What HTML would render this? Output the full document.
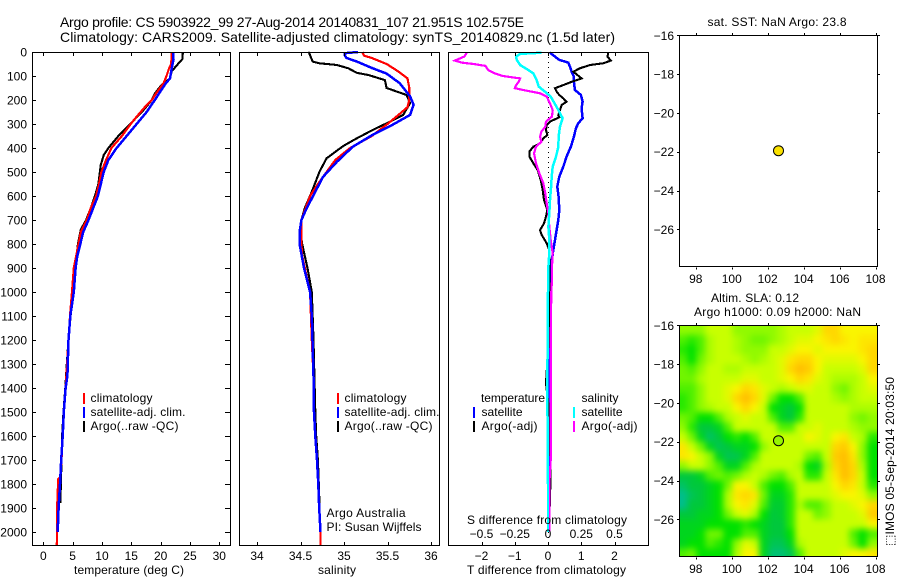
<!DOCTYPE html>
<html lang="en">
<head>
<meta charset="utf-8">
<title>Argo profile CS 5903922_99</title>
<style>
html,body{margin:0;padding:0;background:#fff;}
svg{display:block;}
text{font-family:"Liberation Sans","DejaVu Sans",sans-serif;font-size:12px;fill:#000;}
.ttl{font-size:14px;}
.box{fill:none;stroke:#000;stroke-width:1;shape-rendering:crispEdges;}
.lg{shape-rendering:crispEdges;}
</style>
</head>
<body>
<svg id="figure" xmlns="http://www.w3.org/2000/svg" width="900" height="580" viewBox="0 0 900 580">
  <defs>
    <clipPath id="mapClip"><rect x="679.5" y="325.5" width="198" height="231"/></clipPath>
    <filter id="smooth" filterUnits="userSpaceOnUse" x="640" y="280" width="280" height="320" color-interpolation-filters="sRGB">
      <feGaussianBlur stdDeviation="3.2"/>
    </filter>
  </defs>

  <text class="ttl" x="60" y="27" textLength="464">Argo profile: CS 5903922_99 27-Aug-2014 20140831_107 21.951S 102.575E</text>
  <text class="ttl" x="60" y="42" textLength="555">Climatology: CARS2009. Satellite-adjusted climatology: synTS_20140829.nc (1.5d later)</text>

  <g id="heat" clip-path="url(#mapClip)"><g id="heatCells" filter="url(#smooth)"></g></g>

  <g id="series1"></g>
  <g id="series2"></g>
  <line x1="548.5" y1="52" x2="548.5" y2="545" stroke="#000" stroke-width="1" stroke-dasharray="1 4" shape-rendering="crispEdges"/>
  <g id="series3"></g>

  <rect class="box" x="32.5" y="52.5" width="198" height="493"/>
  <rect class="box" x="239.5" y="52.5" width="200" height="493"/>
  <rect class="box" x="448.5" y="52.5" width="200" height="493"/>
  <rect class="box" x="679.5" y="35.5" width="198" height="231"/>
  <rect class="box" x="679.5" y="325.5" width="198" height="231"/>

  <g id="axes"></g>

  <text x="74" y="574" textLength="110">temperature (deg C)</text>
  <text x="318" y="574" textLength="38">salinity</text>
  <text x="467" y="574" textLength="159">T difference from climatology</text>
  <text x="467" y="524" textLength="160">S difference from climatology</text>

  <g>
    <rect class="lg" x="83" y="393" width="2" height="11" fill="#f00"/>
    <rect class="lg" x="83" y="407" width="2" height="11" fill="#00f"/>
    <rect class="lg" x="83" y="421" width="2" height="11" fill="#000"/>
    <text x="90.5" y="402" textLength="62">climatology</text>
    <text x="90.5" y="416" textLength="95">satellite-adj. clim.</text>
    <text x="90.5" y="430" textLength="88">Argo(..raw -QC)</text>
  </g>
  <g>
    <rect class="lg" x="337" y="393" width="2" height="11" fill="#f00"/>
    <rect class="lg" x="337" y="407" width="2" height="11" fill="#00f"/>
    <rect class="lg" x="337" y="421" width="2" height="11" fill="#000"/>
    <text x="344.5" y="402" textLength="62">climatology</text>
    <text x="344.5" y="416" textLength="95">satellite-adj. clim.</text>
    <text x="344.5" y="430" textLength="88">Argo(..raw -QC)</text>
  </g>
  <text x="326.5" y="517" textLength="79">Argo Australia</text>
  <text x="326.5" y="531" textLength="95">PI: Susan Wijffels</text>

  <g>
    <text x="481" y="402" textLength="64">temperature</text>
    <rect class="lg" x="473" y="407" width="2" height="11" fill="#00f"/>
    <rect class="lg" x="473" y="421" width="2" height="11" fill="#000"/>
    <text x="481.5" y="416" textLength="41">satellite</text>
    <text x="481.5" y="430" textLength="56">Argo(-adj)</text>
    <text x="581.5" y="402" textLength="37">salinity</text>
    <rect class="lg" x="573" y="407" width="2" height="11" fill="#0ff"/>
    <rect class="lg" x="573" y="421" width="2" height="11" fill="#f0f"/>
    <text x="581.5" y="416" textLength="41">satellite</text>
    <text x="581.5" y="430" textLength="56">Argo(-adj)</text>
  </g>

  <text x="707.5" y="26" textLength="139">sat. SST: NaN Argo: 23.8</text>
  <text x="711" y="302" textLength="88">Altim. SLA: 0.12</text>
  <text x="694" y="316" textLength="167">Argo h1000: 0.09 h2000: NaN</text>
  <text transform="translate(894 546) rotate(-90)" textLength="169">⬚IMOS 05-Sep-2014 20:03:50</text>

  <g id="markers"></g>
</svg>

<script>
// ---- Temperature panel (deg C)
const tempClimDepth = [0,50,70,100,130,170,200,230,270,300,350,400,450,500,550,600,650,700,750,800,850,900,1000,1100,1200,1300,1400,1500,1600,1700,1770,1780,1860,1950,2000,2054];
const tempClimValue = [21.9,21.8,21.4,21,20.5,19.3,18.5,17.3,15.9,14.9,13.4,11.6,10.7,9.9,9.5,9,8.1,7.4,6.4,6,5.6,5.2,4.9,4.55,4.3,4.05,3.8,3.5,3.3,3.1,2.9,2.55,2.4,2.35,2.35,2.3];
const tempSatDepth = [0,30,80,110,130,170,200,250,300,350,400,450,500,550,600,650,700,750,800,850,900,1000,1100,1200,1350,1400,1500,1600,1700,1800,1900,2000];
const tempSatValue = [22.1,22.2,21.8,21.6,20.9,19.8,19,17.6,15.9,14.2,12.5,11.1,10.3,9.8,9.3,8.5,7.7,6.8,6.3,5.8,5.5,5.2,4.6,4.3,4.1,3.8,3.5,3.3,3.05,2.85,2.6,2.45];
const tempArgoDepth = [0,30,40,60,80,110,130,145,170,200,250,300,350,400,430,470,550,600,650,700,740,800,900,1000,1100,1200,1300,1400,1500,1600,1700,1800,1880];
const tempArgoValue = [23.8,23.7,23.3,22.6,21.9,21.6,20.5,19.9,19.1,18.5,16.8,14.8,12.8,11.1,10.3,9.8,9.4,8.8,8.1,7.3,6.4,5.9,5.45,5.1,4.65,4.3,4,3.75,3.45,3.2,3.1,3,2.9];

// ---- Salinity panel
const salClimDepth = [0,15,25,50,80,110,150,200,230,270,300,350,400,450,500,550,600,650,700,800,850,900,1000,1200,1350,1500,1700,1900,2000,2054];
const salClimValue = [35.21,35.23,35.32,35.49,35.62,35.73,35.75,35.75,35.73,35.6,35.5,35.32,35.07,34.9,34.8,34.7,34.61,34.56,34.51,34.51,34.52,34.55,34.61,34.63,34.65,34.655,34.69,34.715,34.73,34.73];
const salSatDepth = [0,5,15,25,40,68,90,130,185,220,262,303,345,395,457,520,610,660,700,750,800,900,1000,1100,1350,1500,1600,1700,1800,1900,2000];
const salSatValue = [35.16,35.01,35.01,35.03,35.15,35.33,35.49,35.64,35.76,35.8,35.76,35.56,35.33,35.1,34.92,34.76,34.63,34.56,34.51,34.49,34.49,34.54,34.61,34.63,34.65,34.655,34.67,34.69,34.705,34.715,34.73];
const salArgoDepth = [0,5,40,47,54,68,87,96,117,150,179,213,262,297,325,359,392,443,498,582,650,700,750,800,850,900,1000,1200,1500,1600,1700,1800,1900];
const salArgoValue = [34.59,34.6,34.64,34.72,34.92,35.05,35.15,35.28,35.47,35.49,35.72,35.76,35.68,35.49,35.33,35.15,34.99,34.8,34.72,34.63,34.55,34.51,34.5,34.52,34.55,34.58,34.63,34.65,34.67,34.68,34.7,34.71,34.72];

// ---- Difference panel (T in deg C on the lower axis, S on the upper axis)
const dTSatDepth = [3,19,33,44,61,82,103,124,158,179,207,235,276,297,318,353,394,436,478,519,561,603,658,700,742,783,825,894,950,1000,1200,1400,1600,1800,2000];
const dTSatValue = [.06,.21,.34,.61,.66,.71,.78,.78,.81,.99,1.04,1.01,1.04,.91,.84,.78,.69,.56,.46,.34,.28,.32,.34,.31,.26,.21,.16,.09,.06,.05,.04,.04,.05,.03,.03];
const dTArgoDepth = [3,19,36,47,54,68,82,110,124,138,151,165,179,193,207,221,242,263,272,290,304,325,346,360,381,394,415,436,464,492,533,575,617,658,686,714,742,762,797,825,894,1000,1200,1380,1500,1754,1950];
const dTArgoValue = [1.81,1.79,1.89,1.66,1.26,.96,.76,1.01,.71,.46,.21,.26,.34,.46,.56,.41,.36,.31,.34,.06,-.04,-.06,-.02,-.14,-.24,-.44,-.56,-.56,-.44,-.31,-.22,-.16,-.12,-.02,-.06,-.12,-.24,-.19,-.04,.04,.04,.05,.02,-.06,.04,.08,.04];
const dSSatDepth = [3,8,19,33,54,75,89,117,144,165,186,214,242,276,311,353,394,436,478,519,561,617,672,728,783,839,894,950,1000,1400,1800,2000];
const dSSatValue = [-.048,-.21,-.24,-.235,-.21,-.148,-.11,-.085,-.07,-.023,.02,.05,.078,.11,.09,.08,.078,.06,.035,.028,.023,.015,.01,.003,.01,.01,.003,.003,0,-.005,0,0];
const dSArgoDepth = [3,19,36,44,50,58,75,89,100,110,124,138,151,158,172,186,214,242,269,290,311,332,353,374,394,422,464,506,547,589,631,672,728,783,839,894,950,1000,1200,1500,1700,1800,2000];
const dSArgoValue = [-.61,-.63,-.7,-.65,-.56,-.47,-.45,-.4,-.34,-.21,-.22,-.24,-.25,-.19,-.06,-.01,.015,.035,.03,-.015,-.02,-.05,-.06,-.05,-.09,-.105,-.09,-.065,-.035,-.02,-.01,.003,.01,.02,.035,.03,.03,.025,.02,.02,.02,.01,.01];

// ---- Tick labels
const depthTicks = [0,100,200,300,400,500,600,700,800,900,1000,1100,1200,1300,1400,1500,1600,1700,1800,1900,2000];
const tempTicks = [0,5,10,15,20,25,30];
const salTicks = [34,34.5,35,35.5,36];
const dTTicks = [-2,-1,0,1,2];
const dSTicks = [-0.5,-0.25,0,0.25,0.5];
const lonTicks = [98,100,102,104,106,108];
const latTicks = [-16,-18,-20,-22,-24,-26];

// ---- Float position
const floatLon = 102.575;
const floatLat = -21.951;

// ---- Altimetry SLA grid (relative colour level), 0.5 degree cells, north to south, west to east
const heatLonStart = 97;
const heatLatStart = -16;
const heatStep = 0.5;
const heatRows = [
[4,4,4,5,5,5,4,4,4,4,4,4.5,5,5,5,5.5,7,7,6,6,6,6],
[3,2.5,3,4.5,5,5,4.5,4,3.5,3.5,4,4.5,5,5.5,5.5,6,6.5,7,6.5,6,6.5,6.5],
[2.5,2,3,4.5,5,5,4.5,4,4,4,5,5,5.5,6,6,5.5,6,6,6,6,6.5,7],
[3,2,3.5,4.5,5,5,5,4.5,4,4.5,5,5.5,6.5,7,7,6,5.5,5.5,5.5,5.5,6,7],
[3.5,3,4,5,5,4.5,4.5,5,5,5,5,5.5,7,8,7.5,6,5,5,5,5,5.5,7],
[3.5,3.5,4.5,5,5,5,5,5.5,5.5,5,5,5.5,6,7,6.5,5.5,5,4.5,4.5,4.5,5,6],
[3,3,4,5,5,5.5,6,7,6.5,5.5,5,4.5,5,5.5,5.5,5,5,4,3.5,4.5,5,5.5],
[2.5,3,4,5,5,5.5,7,8,7,5.5,3.5,2,2,3,5,5,5,4.5,4,4.5,5,5],
[2.5,3,4,4.5,5,5,6,7,6,5,2,1.5,1,2,5,5,5,5,5,4.5,4.5,4.5],
[3.5,3,2,2,3,4.5,5,5.5,5,5,3,1.5,1,2.5,5,5,5,5,5,4,3.5,4],
[4,2.5,1,1,1.5,3,5,5,5,5,5,3,3,5,5,5.5,5,5,5,4.5,4,4],
[5,3.5,1.5,.5,1,2,2.5,2,3,5,5,5,5,5,6,5.5,5,6,6.5,5,4.5,2.5],
[6.5,5,3.5,1.5,.7,1,1.5,1.5,2,4,5,5,5,5,5,5,5,7,7.5,6,4,2],
[6.5,6,5,4,1.5,.7,.8,1.5,3,5,5,5,5,5,3.5,3,5,7.5,8,6.5,4,2],
[4,5,5,4,3,1.5,1.5,3,4.5,5,5,5,5,4.5,2,1.5,4.5,7,8.5,7,4.5,2],
[1,1,1.5,3,3.5,3,3.5,4.5,5,4.5,3.5,3,4.5,5,2.5,2.5,5,6.5,8,7,5,2],
[.5,1,1,1.5,2,3.5,6,6,5,3,2,2,3,5,5,5,5,6,7,6.5,5,2.5],
[0,.7,1,1.5,2,4.5,6.5,7,6.5,3.5,1.5,1.5,2.5,5,5,5,5,5.5,6,6,5.5,4],
[0,1,1,1.5,2,4.5,6,6.5,5.5,3,1.2,1.2,2.5,4.5,3,3,4,5,5,5.5,6,7],
[1,1,1.5,1.5,2,3.5,5,5.5,4.5,2,1,1.2,2.5,5,5,3.5,4,5,5,5,5.5,7.5],
[1.5,1.5,1.5,2,2,2,2,2.5,2,1.5,1,1,2.5,5,5,5,5,5,5,5,5,6],
[1.5,1.5,2,3.5,3.5,2,2,3,3,1.5,1,1,2,5,5,5,5,5,5,3,2,3],
[1.5,2,2,3,2.5,2,4,5.5,5,1.5,.7,.7,1.5,4.5,5,5,5,5,5,3.5,2,4],
[3,3.5,2,2,2,2,4.5,6,6,1.5,.3,.3,.7,3,5,5,5,5,5.5,6,6,6.5]
];
const heatPalette = ["#00be8c","#00c83c","#00e100","#50f000","#91fa00","#c8ff00","#faf500","#ffd700","#ffbe00"];

// ---- Axis functions
function yDepth(d){return 52 + d*0.24;}
function xTemp(t){return 43.3 + t*5.867;}
function xSal(s){return 257 + (s-34)*87;}
function xDT(t){return 548 + t*33.25;}
function xDS(s){return 548 + s*133;}
function xLon(l){return 696.3 + (l-98)*17.97;}
function yLat(top,l){return top + (-16-l)*19.4;}

const NS = "http://www.w3.org/2000/svg";

function drawLine(parentId, name, depths, values, xf, color, width){
  const el = document.createElementNS(NS,"polyline");
  
  
  el.setAttribute("points", depths.map(function(d,i){return xf(values[i]).toFixed(1)+","+yDepth(d).toFixed(1);}).join(" "));
  el.setAttribute("fill","none");
  el.setAttribute("stroke",color);
  el.setAttribute("stroke-width",width);
  el.setAttribute("shape-rendering","crispEdges");
  document.getElementById(parentId).appendChild(el);
}
function tick(name,x1,y1,x2,y2){
  const el = document.createElementNS(NS,"line");
  
  
  el.setAttribute("x1",x1);el.setAttribute("y1",y1);el.setAttribute("x2",x2);el.setAttribute("y2",y2);
  el.setAttribute("stroke","#000");
  el.setAttribute("stroke-width","1");
  el.setAttribute("shape-rendering","crispEdges");
  document.getElementById("axes").appendChild(el);
}
function label(name,str,x,y,anchor){
  const el = document.createElementNS(NS,"text");
  
  
  el.setAttribute("x",x);el.setAttribute("y",y);
  el.setAttribute("text-anchor",anchor);
  el.textContent = String(str).replace("-","\u2212");
  document.getElementById("axes").appendChild(el);
}
function px(v){return Math.round(v)+0.5;}

// Series
drawLine("series1","temperature-argo-line",tempArgoDepth,tempArgoValue,xTemp,"#000",2.1);
drawLine("series1","temperature-climatology-line",tempClimDepth,tempClimValue,xTemp,"#f00",2.2);
drawLine("series1","temperature-satellite-line",tempSatDepth,tempSatValue,xTemp,"#00f",2.5);
drawLine("series2","salinity-argo-line",salArgoDepth,salArgoValue,xSal,"#000",2.1);
drawLine("series2","salinity-climatology-line",salClimDepth,salClimValue,xSal,"#f00",2.2);
drawLine("series2","salinity-satellite-line",salSatDepth,salSatValue,xSal,"#00f",2.5);
drawLine("series3","t-difference-satellite-line",dTSatDepth,dTSatValue,xDT,"#00f",2.5);
drawLine("series3","t-difference-argo-line",dTArgoDepth,dTArgoValue,xDT,"#000",2.1);
drawLine("series3","s-difference-argo-line",dSArgoDepth,dSArgoValue,xDS,"#f0f",2.2);
drawLine("series3","s-difference-satellite-line",dSSatDepth,dSSatValue,xDS,"#0ff",2.5);

// Depth axis
depthTicks.forEach(function(d){
  const y = px(yDepth(d));
  tick("depth-tick-left",33,y,36,y);
  tick("depth-tick-right",225,y,231,y);
  label("depth-tick-label",d,27,yDepth(d)+4.5,"end");
});
// Temperature axis
tempTicks.forEach(function(t){
  const x = px(xTemp(t));
  tick("temperature-tick-top",x,53,x,56);
  tick("temperature-tick-bottom",x,542,x,545);
  label("temperature-tick-label",t,xTemp(t),560,"middle");
});
// Salinity axis
salTicks.forEach(function(s){
  const x = px(xSal(s));
  tick("salinity-tick-top",x,53,x,56);
  tick("salinity-tick-bottom",x,542,x,545);
  label("salinity-tick-label",s,xSal(s),560,"middle");
});
// Difference axes
dTTicks.forEach(function(t){
  const x = px(xDT(t));
  tick("t-difference-tick-top",x,53,x,56);
  tick("t-difference-tick-bottom",x,542,x,545);
  label("t-difference-tick-label",t,xDT(t),560,"middle");
});
dSTicks.forEach(function(s){
  label("s-difference-tick-label",s,xDS(s),538,"middle");
});
// Map axes
[35.3,325.3].forEach(function(top){
  const bottom = top + 231;
  const base = px(top)-0.5;
  lonTicks.forEach(function(l){
    const x = px(xLon(l));
    tick("longitude-tick-top",x,base-2,x,base);
    tick("longitude-tick-bottom",x,bottom+1,x,bottom+3);
    label("longitude-tick-label",l,xLon(l)-0.5,bottom+16.5,"middle");
  });
  latTicks.forEach(function(l){
    const y = px(yLat(top,l));
    tick("latitude-tick-left",677,y,680,y);
    tick("latitude-tick-right",878,y,880,y);
    label("latitude-tick-label",l,674,yLat(top,l)+4.5,"end");
  });
});

// Heatmap (edge cells repeated just outside the clip so the smoothing stays opaque)
function heatColor(v){
  const p = Math.max(0,Math.min(heatPalette.length-1,v));
  const i = Math.min(heatPalette.length-2,Math.floor(p));
  const f = p-i;
  const a = parseInt(heatPalette[i].slice(1),16), b = parseInt(heatPalette[i+1].slice(1),16);
  const mix = function(sh){return Math.round(((a>>sh)&255)*(1-f)+((b>>sh)&255)*f);};
  return "rgb("+mix(16)+","+mix(8)+","+mix(0)+")";
}
const heatGroup = document.getElementById("heatCells");
const heatNRows = heatRows.length;
const heatNCols = heatRows[0].length;
for(let r=-3;r<heatNRows+3;r++){
  for(let c=-3;c<heatNCols+3;c++){
    const row = heatRows[Math.max(0,Math.min(heatNRows-1,r))];
    const v = row[Math.max(0,Math.min(heatNCols-1,c))];
    const x0 = xLon(heatLonStart+c*heatStep);
    const x1 = xLon(heatLonStart+(c+1)*heatStep);
    const y0 = yLat(325.3,heatLatStart-r*heatStep);
    const y1 = yLat(325.3,heatLatStart-(r+1)*heatStep);
    const cell = document.createElementNS(NS,"rect");
    
    
    cell.setAttribute("x",x0.toFixed(2));
    cell.setAttribute("y",y0.toFixed(2));
    cell.setAttribute("width",(x1-x0+0.6).toFixed(2));
    cell.setAttribute("height",(y1-y0+0.6).toFixed(2));
    cell.setAttribute("fill",heatColor(v));
    heatGroup.appendChild(cell);
  }
}

// Float markers
function marker(name,top,fill){
  const el = document.createElementNS(NS,"circle");
  
  
  el.setAttribute("cx",xLon(floatLon).toFixed(1));
  el.setAttribute("cy",yLat(top,floatLat).toFixed(1));
  el.setAttribute("r","5");
  el.setAttribute("fill",fill);
  el.setAttribute("stroke","#000");
  el.setAttribute("stroke-width","1");
  document.getElementById("markers").appendChild(el);
}
marker("sst-float-marker",35.3,"#fae100");
marker("sla-float-marker",325.3,"#96f500");
</script>
</body>
</html>
